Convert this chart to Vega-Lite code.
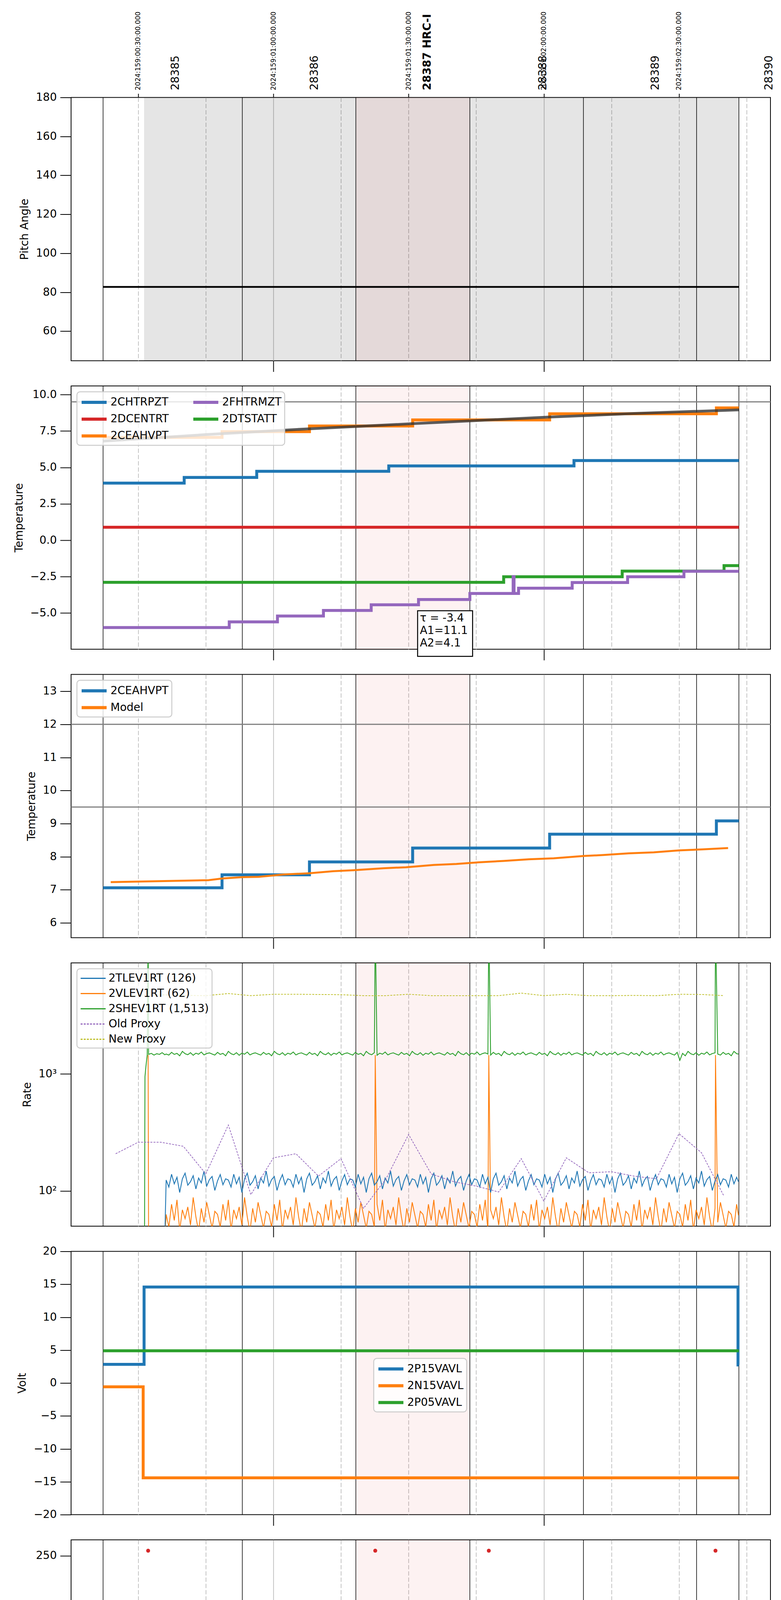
{
  "$schema": "https://vega.github.io/schema/vega-lite/v6.json",
  "background": "white",
  "padding": {"left": 34, "top": 29, "right": 0, "bottom": 0},
  "spacing": 64.5,
  "bounds": "flush",
  "resolve": {"scale": {"color": "independent", "strokeDash": "independent"}},
  "datasets": {
    "shade": [{"k": "obs", "m": 31.3, "m2": 163.3}, {"k": "hrc", "m": 78.3, "m2": 103.6}],
    "obsid": [{"m": 22.2}, {"m": 53.1}, {"m": 78.3}, {"m": 103.6}, {"m": 128.8}, {"m": 153.9}, {"m": 163.3}],
    "pitch": [{"m": 22.2, "v": 82.7}, {"m": 163.3, "v": 82.7}],
    "lim": [{"p": 2, "v": 9.5}, {"p": 3, "v": 12}, {"p": 3, "v": 9.5}],
    "anno": [{"m": 92.0, "m2": 104.2, "v": -4.84, "v2": -7.97, "tm": 92.5, "tv": -5.0, "txt": "τ = -3.4\nA1=11.1\nA2=4.1"}],
    "temps": [
      {"s": "2CHTRPZT", "m": 22.2, "v": 3.92}, {"s": "2CHTRPZT", "m": 40.2, "v": 4.31}, {"s": "2CHTRPZT", "m": 56.3, "v": 4.73}, {"s": "2CHTRPZT", "m": 85.6, "v": 5.1}, {"s": "2CHTRPZT", "m": 126.7, "v": 5.47}, {"s": "2CHTRPZT", "m": 163.3, "v": 5.47},
      {"s": "2CEAHVPT", "m": 22.2, "v": 7.06}, {"s": "2CEAHVPT", "m": 48.6, "v": 7.45}, {"s": "2CEAHVPT", "m": 68.0, "v": 7.84}, {"s": "2CEAHVPT", "m": 90.9, "v": 8.26}, {"s": "2CEAHVPT", "m": 121.3, "v": 8.68}, {"s": "2CEAHVPT", "m": 158.3, "v": 9.08}, {"s": "2CEAHVPT", "m": 163.3, "v": 9.08},
      {"s": "2DTSTATT", "m": 22.2, "v": -2.89}, {"s": "2DTSTATT", "m": 111.1, "v": -2.51}, {"s": "2DTSTATT", "m": 137.4, "v": -2.12}, {"s": "2DTSTATT", "m": 160.0, "v": -1.74}, {"s": "2DTSTATT", "m": 163.3, "v": -1.74},
      {"s": "2DCENTRT", "m": 22.2, "v": 0.89}, {"s": "2DCENTRT", "m": 163.3, "v": 0.89},
      {"s": "2FHTRMZT", "m": 22.2, "v": -5.99}, {"s": "2FHTRMZT", "m": 50.2, "v": -5.6}, {"s": "2FHTRMZT", "m": 60.9, "v": -5.2}, {"s": "2FHTRMZT", "m": 71.1, "v": -4.82}, {"s": "2FHTRMZT", "m": 81.7, "v": -4.43}, {"s": "2FHTRMZT", "m": 92.2, "v": -4.07}, {"s": "2FHTRMZT", "m": 103.6, "v": -3.65}, {"s": "2FHTRMZT", "m": 113.2, "v": -2.5}, {"s": "2FHTRMZT", "m": 113.4, "v": -3.65}, {"s": "2FHTRMZT", "m": 114.4, "v": -3.29}, {"s": "2FHTRMZT", "m": 126.3, "v": -2.9}, {"s": "2FHTRMZT", "m": 138.6, "v": -2.51}, {"s": "2FHTRMZT", "m": 151.1, "v": -2.13}, {"s": "2FHTRMZT", "m": 163.3, "v": -2.13},
      {"s": "2FRADPYT", "m": 22.2, "v": -7.98}, {"s": "2FRADPYT", "m": 22.6, "v": -8.38}, {"s": "2FRADPYT", "m": 51.3, "v": -7.98}, {"s": "2FRADPYT", "m": 63.3, "v": -7.58}, {"s": "2FRADPYT", "m": 75.2, "v": -7.16}, {"s": "2FRADPYT", "m": 87.6, "v": -6.77}, {"s": "2FRADPYT", "m": 100.2, "v": -6.37}, {"s": "2FRADPYT", "m": 113.0, "v": -5.98}, {"s": "2FRADPYT", "m": 126.1, "v": -5.59}, {"s": "2FRADPYT", "m": 140.0, "v": -5.19}, {"s": "2FRADPYT", "m": 154.0, "v": -4.8}, {"s": "2FRADPYT", "m": 163.3, "v": -4.8},
      {"s": "2FEPRATM", "m": 31.3, "v": -7.07}, {"s": "2FEPRATM", "m": 31.5, "v": -6.44}, {"s": "2FEPRATM", "m": 34.1, "v": -6.04}, {"s": "2FEPRATM", "m": 36.9, "v": -5.62}, {"s": "2FEPRATM", "m": 39.8, "v": -5.2}, {"s": "2FEPRATM", "m": 43.3, "v": -4.79}, {"s": "2FEPRATM", "m": 48.3, "v": -4.37}, {"s": "2FEPRATM", "m": 53.9, "v": -3.96}, {"s": "2FEPRATM", "m": 61.7, "v": -3.54}, {"s": "2FEPRATM", "m": 70.8, "v": -3.12}, {"s": "2FEPRATM", "m": 80.3, "v": -2.69}, {"s": "2FEPRATM", "m": 82.5, "v": -6.07}, {"s": "2FEPRATM", "m": 82.7, "v": -2.69}, {"s": "2FEPRATM", "m": 83.8, "v": -6.07}, {"s": "2FEPRATM", "m": 84.0, "v": -2.69}, {"s": "2FEPRATM", "m": 89.8, "v": -2.27}, {"s": "2FEPRATM", "m": 90.1, "v": -6.07}, {"s": "2FEPRATM", "m": 90.3, "v": -2.27}, {"s": "2FEPRATM", "m": 93.9, "v": -6.07}, {"s": "2FEPRATM", "m": 94.1, "v": -2.27}, {"s": "2FEPRATM", "m": 94.8, "v": -6.07}, {"s": "2FEPRATM", "m": 95.0, "v": -2.27}, {"s": "2FEPRATM", "m": 95.6, "v": -6.07}, {"s": "2FEPRATM", "m": 95.8, "v": -2.27}, {"s": "2FEPRATM", "m": 96.3, "v": -6.07}, {"s": "2FEPRATM", "m": 96.5, "v": -2.27}, {"s": "2FEPRATM", "m": 98.1, "v": -6.07}, {"s": "2FEPRATM", "m": 98.3, "v": -2.27}, {"s": "2FEPRATM", "m": 99.4, "v": -6.07}, {"s": "2FEPRATM", "m": 99.6, "v": -2.27}, {"s": "2FEPRATM", "m": 100.2, "v": -6.07}, {"s": "2FEPRATM", "m": 100.4, "v": -2.27}, {"s": "2FEPRATM", "m": 100.9, "v": -1.84}, {"s": "2FEPRATM", "m": 101.1, "v": -6.07}, {"s": "2FEPRATM", "m": 101.3, "v": -1.84}, {"s": "2FEPRATM", "m": 101.8, "v": -6.07}, {"s": "2FEPRATM", "m": 102.0, "v": -1.84}, {"s": "2FEPRATM", "m": 105.5, "v": -6.07}, {"s": "2FEPRATM", "m": 105.7, "v": -1.84}, {"s": "2FEPRATM", "m": 107.7, "v": -6.07}, {"s": "2FEPRATM", "m": 107.9, "v": -1.84}, {"s": "2FEPRATM", "m": 108.7, "v": -6.07}, {"s": "2FEPRATM", "m": 108.9, "v": -1.84}, {"s": "2FEPRATM", "m": 109.6, "v": -6.07}, {"s": "2FEPRATM", "m": 109.8, "v": -1.84}, {"s": "2FEPRATM", "m": 113.3, "v": -1.41}, {"s": "2FEPRATM", "m": 126.7, "v": -0.97}, {"s": "2FEPRATM", "m": 139.8, "v": -0.53}, {"s": "2FEPRATM", "m": 154.0, "v": -0.1}, {"s": "2FEPRATM", "m": 158.0, "v": -2.2}, {"s": "2FEPRATM", "m": 158.2, "v": -0.1}, {"s": "2FEPRATM", "m": 163.3, "v": -0.1},
      {"s": "2FE00ATM", "m": 31.1, "v": -10}, {"s": "2FE00ATM", "m": 31.3, "v": -7.1}, {"s": "2FE00ATM", "m": 32.2, "v": -10}, {"s": "2FE00ATM", "m": 32.4, "v": -7.1}, {"s": "2FE00ATM", "m": 42.8, "v": -6.73}, {"s": "2FE00ATM", "m": 50.0, "v": -6.38}, {"s": "2FE00ATM", "m": 54.3, "v": 2}, {"s": "2FE00ATM", "m": 54.7, "v": -6.38}, {"s": "2FE00ATM", "m": 55.0, "v": 2}, {"s": "2FE00ATM", "m": 55.4, "v": -6.38}, {"s": "2FE00ATM", "m": 56.1, "v": -7.1}, {"s": "2FE00ATM", "m": 56.3, "v": -6.38}, {"s": "2FE00ATM", "m": 56.7, "v": -6.04}, {"s": "2FE00ATM", "m": 57.3, "v": 2}, {"s": "2FE00ATM", "m": 57.7, "v": -6.04}, {"s": "2FE00ATM", "m": 58.0, "v": 2}, {"s": "2FE00ATM", "m": 58.4, "v": -6.04}, {"s": "2FE00ATM", "m": 59.6, "v": 2}, {"s": "2FE00ATM", "m": 60.0, "v": -6.04}, {"s": "2FE00ATM", "m": 60.4, "v": 2}, {"s": "2FE00ATM", "m": 60.8, "v": -6.04}, {"s": "2FE00ATM", "m": 61.2, "v": 2}, {"s": "2FE00ATM", "m": 61.6, "v": -6.04}, {"s": "2FE00ATM", "m": 62.0, "v": 2}, {"s": "2FE00ATM", "m": 62.4, "v": -6.04}, {"s": "2FE00ATM", "m": 62.6, "v": 2}, {"s": "2FE00ATM", "m": 62.9, "v": -6.04}, {"s": "2FE00ATM", "m": 63.3, "v": -5.69}, {"s": "2FE00ATM", "m": 70.2, "v": -5.34}, {"s": "2FE00ATM", "m": 74.6, "v": -4.9}, {"s": "2FE00ATM", "m": 74.8, "v": -5.34}, {"s": "2FE00ATM", "m": 77.8, "v": -4.99}, {"s": "2FE00ATM", "m": 82.6, "v": -10}, {"s": "2FE00ATM", "m": 82.8, "v": -4.99}, {"s": "2FE00ATM", "m": 83.8, "v": 2}, {"s": "2FE00ATM", "m": 84.1, "v": -4.99}, {"s": "2FE00ATM", "m": 85.8, "v": -4.64}, {"s": "2FE00ATM", "m": 86.6, "v": 2}, {"s": "2FE00ATM", "m": 87.0, "v": -4.64}, {"s": "2FE00ATM", "m": 87.4, "v": 2}, {"s": "2FE00ATM", "m": 87.7, "v": -4.64}, {"s": "2FE00ATM", "m": 90.1, "v": 2}, {"s": "2FE00ATM", "m": 90.4, "v": -4.64}, {"s": "2FE00ATM", "m": 90.7, "v": 2}, {"s": "2FE00ATM", "m": 91.0, "v": -4.64}, {"s": "2FE00ATM", "m": 93.6, "v": 2}, {"s": "2FE00ATM", "m": 94.0, "v": -4.3}, {"s": "2FE00ATM", "m": 94.4, "v": -10}, {"s": "2FE00ATM", "m": 94.8, "v": -4.3}, {"s": "2FE00ATM", "m": 95.5, "v": 2}, {"s": "2FE00ATM", "m": 95.8, "v": -4.3}, {"s": "2FE00ATM", "m": 96.2, "v": 2}, {"s": "2FE00ATM", "m": 96.5, "v": -4.3}, {"s": "2FE00ATM", "m": 98.0, "v": 2}, {"s": "2FE00ATM", "m": 98.3, "v": -4.3}, {"s": "2FE00ATM", "m": 99.2, "v": 2}, {"s": "2FE00ATM", "m": 99.5, "v": -4.3}, {"s": "2FE00ATM", "m": 99.9, "v": 2}, {"s": "2FE00ATM", "m": 100.2, "v": -4.3}, {"s": "2FE00ATM", "m": 100.6, "v": 2}, {"s": "2FE00ATM", "m": 100.9, "v": -4.3}, {"s": "2FE00ATM", "m": 101.6, "v": 2}, {"s": "2FE00ATM", "m": 101.9, "v": -4.3}, {"s": "2FE00ATM", "m": 102.3, "v": 2}, {"s": "2FE00ATM", "m": 102.6, "v": -3.97}, {"s": "2FE00ATM", "m": 105.5, "v": 2}, {"s": "2FE00ATM", "m": 105.8, "v": -3.97}, {"s": "2FE00ATM", "m": 107.8, "v": -10}, {"s": "2FE00ATM", "m": 108.0, "v": -3.97}, {"s": "2FE00ATM", "m": 108.7, "v": 2}, {"s": "2FE00ATM", "m": 109.0, "v": -3.97}, {"s": "2FE00ATM", "m": 109.6, "v": 2}, {"s": "2FE00ATM", "m": 109.9, "v": -3.97}, {"s": "2FE00ATM", "m": 111.1, "v": -3.62}, {"s": "2FE00ATM", "m": 120.6, "v": -3.3}, {"s": "2FE00ATM", "m": 130.0, "v": -2.95}, {"s": "2FE00ATM", "m": 139.4, "v": -2.61}, {"s": "2FE00ATM", "m": 141.0, "v": -2.2}, {"s": "2FE00ATM", "m": 141.2, "v": -2.61}, {"s": "2FE00ATM", "m": 145.2, "v": -3.0}, {"s": "2FE00ATM", "m": 145.4, "v": -2.61}, {"s": "2FE00ATM", "m": 150.0, "v": -2.27}, {"s": "2FE00ATM", "m": 154.3, "v": -2.0}, {"s": "2FE00ATM", "m": 154.5, "v": -2.27}, {"s": "2FE00ATM", "m": 158.1, "v": -10}, {"s": "2FE00ATM", "m": 158.3, "v": -2.27}, {"s": "2FE00ATM", "m": 160.6, "v": -1.94}, {"s": "2FE00ATM", "m": 161.8, "v": -1.6}, {"s": "2FE00ATM", "m": 162.0, "v": -1.94}, {"s": "2FE00ATM", "m": 163.3, "v": -1.94}
    ],
    "tmodel": [{"m": 22.2, "v": 6.8}, {"m": 45, "v": 7.25}, {"m": 68, "v": 7.65}, {"m": 91, "v": 8.0}, {"m": 104, "v": 8.2}, {"m": 121, "v": 8.45}, {"m": 140, "v": 8.7}, {"m": 163.3, "v": 8.95}],
    "model": [
      {"s": "Model", "m": 23.9, "v": 7.23}, {"s": "Model", "m": 45.6, "v": 7.29}, {"s": "Model", "m": 48.6, "v": 7.34}, {"s": "Model", "m": 53.1, "v": 7.38}, {"s": "Model", "m": 56.7, "v": 7.39}, {"s": "Model", "m": 62.2, "v": 7.46}, {"s": "Model", "m": 68.0, "v": 7.5}, {"s": "Model", "m": 73.3, "v": 7.56}, {"s": "Model", "m": 77.8, "v": 7.59}, {"s": "Model", "m": 84.4, "v": 7.65}, {"s": "Model", "m": 89.4, "v": 7.68}, {"s": "Model", "m": 95.6, "v": 7.75}, {"s": "Model", "m": 100.6, "v": 7.78}, {"s": "Model", "m": 105.6, "v": 7.83}, {"s": "Model", "m": 111.1, "v": 7.87}, {"s": "Model", "m": 116.7, "v": 7.92}, {"s": "Model", "m": 122.2, "v": 7.95}, {"s": "Model", "m": 128.9, "v": 8.02}, {"s": "Model", "m": 133.3, "v": 8.05}, {"s": "Model", "m": 138.9, "v": 8.1}, {"s": "Model", "m": 144.4, "v": 8.13}, {"s": "Model", "m": 150.0, "v": 8.19}, {"s": "Model", "m": 155.0, "v": 8.22}, {"s": "Model", "m": 160.9, "v": 8.26}
    ],
    "volt": [
      {"s": "2P15VAVL", "m": 22.2, "v": 2.84}, {"s": "2P15VAVL", "m": 31.3, "v": 14.59}, {"s": "2P15VAVL", "m": 163.1, "v": 2.75}, {"s": "2P15VAVL", "m": 163.3, "v": 2.75},
      {"s": "2N15VAVL", "m": 22.2, "v": -0.58}, {"s": "2N15VAVL", "m": 31.1, "v": -14.41}, {"s": "2N15VAVL", "m": 163.3, "v": -14.41},
      {"s": "2P05VAVL", "m": 22.2, "v": 4.89}, {"s": "2P05VAVL", "m": 163.3, "v": 4.89}
    ],
    "det": [
      {"s": "2SPINATM", "m": 32.4, "v": 2.66}, {"s": "2SPINATM", "m": 54.3, "v": -2}, {"s": "2SPINATM", "m": 54.7, "v": 2.66}, {"s": "2SPINATM", "m": 55.0, "v": -2}, {"s": "2SPINATM", "m": 55.4, "v": 2.66}, {"s": "2SPINATM", "m": 57.3, "v": -2}, {"s": "2SPINATM", "m": 57.7, "v": 2.66}, {"s": "2SPINATM", "m": 58.0, "v": -2}, {"s": "2SPINATM", "m": 58.4, "v": 2.66}, {"s": "2SPINATM", "m": 59.6, "v": -2}, {"s": "2SPINATM", "m": 60.0, "v": 2.66}, {"s": "2SPINATM", "m": 60.4, "v": -2}, {"s": "2SPINATM", "m": 60.8, "v": 2.66}, {"s": "2SPINATM", "m": 61.2, "v": -2}, {"s": "2SPINATM", "m": 61.6, "v": 2.66}, {"s": "2SPINATM", "m": 62.0, "v": -2}, {"s": "2SPINATM", "m": 62.4, "v": 2.66}, {"s": "2SPINATM", "m": 62.6, "v": -2}, {"s": "2SPINATM", "m": 62.9, "v": 2.66}, {"s": "2SPINATM", "m": 83.8, "v": -2}, {"s": "2SPINATM", "m": 84.1, "v": 2.66}, {"s": "2SPINATM", "m": 86.6, "v": -2}, {"s": "2SPINATM", "m": 87.0, "v": 2.66}, {"s": "2SPINATM", "m": 87.4, "v": -2}, {"s": "2SPINATM", "m": 87.7, "v": 2.66}, {"s": "2SPINATM", "m": 90.1, "v": -2}, {"s": "2SPINATM", "m": 90.4, "v": 2.66}, {"s": "2SPINATM", "m": 90.7, "v": -2}, {"s": "2SPINATM", "m": 91.0, "v": 2.66}, {"s": "2SPINATM", "m": 93.6, "v": -2}, {"s": "2SPINATM", "m": 94.0, "v": 2.66}, {"s": "2SPINATM", "m": 94.4, "v": -2}, {"s": "2SPINATM", "m": 94.8, "v": 2.66}, {"s": "2SPINATM", "m": 95.5, "v": -2}, {"s": "2SPINATM", "m": 95.8, "v": 2.66}, {"s": "2SPINATM", "m": 96.2, "v": -2}, {"s": "2SPINATM", "m": 96.5, "v": 2.66}, {"s": "2SPINATM", "m": 98.0, "v": -2}, {"s": "2SPINATM", "m": 98.3, "v": 2.66}, {"s": "2SPINATM", "m": 99.2, "v": -2}, {"s": "2SPINATM", "m": 99.5, "v": 2.66}, {"s": "2SPINATM", "m": 99.9, "v": -2}, {"s": "2SPINATM", "m": 100.2, "v": 2.66}, {"s": "2SPINATM", "m": 100.6, "v": -2}, {"s": "2SPINATM", "m": 100.9, "v": 2.66}, {"s": "2SPINATM", "m": 101.6, "v": -2}, {"s": "2SPINATM", "m": 101.9, "v": 2.66}, {"s": "2SPINATM", "m": 102.3, "v": -2}, {"s": "2SPINATM", "m": 102.6, "v": 2.66}, {"s": "2SPINATM", "m": 105.5, "v": -2}, {"s": "2SPINATM", "m": 105.8, "v": 2.66}, {"s": "2SPINATM", "m": 108.7, "v": -2}, {"s": "2SPINATM", "m": 109.0, "v": 2.66}, {"s": "2SPINATM", "m": 109.6, "v": -2}, {"s": "2SPINATM", "m": 109.9, "v": 2.66}, {"s": "2SPINATM", "m": 140.6, "v": 3.15}, {"s": "2SPINATM", "m": 163.3, "v": 3.15},
      {"s": "2SPHVATM", "m": 31.3, "v": 15.37}, {"s": "2SPHVATM", "m": 37.8, "v": 14.99}, {"s": "2SPHVATM", "m": 54.3, "v": 8.62}, {"s": "2SPHVATM", "m": 54.7, "v": 14.99}, {"s": "2SPHVATM", "m": 55.0, "v": 8.62}, {"s": "2SPHVATM", "m": 55.4, "v": 14.99}, {"s": "2SPHVATM", "m": 57.3, "v": 8.62}, {"s": "2SPHVATM", "m": 57.7, "v": 14.99}, {"s": "2SPHVATM", "m": 58.0, "v": 8.62}, {"s": "2SPHVATM", "m": 58.4, "v": 14.99}, {"s": "2SPHVATM", "m": 59.6, "v": 8.62}, {"s": "2SPHVATM", "m": 60.0, "v": 15.35}, {"s": "2SPHVATM", "m": 60.4, "v": 8.62}, {"s": "2SPHVATM", "m": 60.8, "v": 15.35}, {"s": "2SPHVATM", "m": 61.2, "v": 8.62}, {"s": "2SPHVATM", "m": 61.6, "v": 15.35}, {"s": "2SPHVATM", "m": 62.0, "v": 8.62}, {"s": "2SPHVATM", "m": 62.4, "v": 15.35}, {"s": "2SPHVATM", "m": 62.6, "v": 8.62}, {"s": "2SPHVATM", "m": 62.9, "v": 15.35}, {"s": "2SPHVATM", "m": 63.4, "v": 8.9}, {"s": "2SPHVATM", "m": 63.6, "v": 15.35}, {"s": "2SPHVATM", "m": 83.8, "v": 9.28}, {"s": "2SPHVATM", "m": 84.1, "v": 15.35}, {"s": "2SPHVATM", "m": 86.6, "v": 9.28}, {"s": "2SPHVATM", "m": 87.0, "v": 15.35}, {"s": "2SPHVATM", "m": 87.4, "v": 9.28}, {"s": "2SPHVATM", "m": 87.7, "v": 15.35}, {"s": "2SPHVATM", "m": 89.4, "v": 15.66}, {"s": "2SPHVATM", "m": 90.1, "v": 9.28}, {"s": "2SPHVATM", "m": 90.4, "v": 15.66}, {"s": "2SPHVATM", "m": 90.7, "v": 9.28}, {"s": "2SPHVATM", "m": 91.0, "v": 15.66}, {"s": "2SPHVATM", "m": 93.6, "v": 9.28}, {"s": "2SPHVATM", "m": 94.0, "v": 15.66}, {"s": "2SPHVATM", "m": 94.4, "v": 2.8}, {"s": "2SPHVATM", "m": 94.8, "v": 15.66}, {"s": "2SPHVATM", "m": 95.5, "v": 9.28}, {"s": "2SPHVATM", "m": 95.8, "v": 15.66}, {"s": "2SPHVATM", "m": 96.2, "v": 9.28}, {"s": "2SPHVATM", "m": 96.5, "v": 15.66}, {"s": "2SPHVATM", "m": 98.0, "v": 9.28}, {"s": "2SPHVATM", "m": 98.3, "v": 15.66}, {"s": "2SPHVATM", "m": 99.2, "v": 9.28}, {"s": "2SPHVATM", "m": 99.5, "v": 15.66}, {"s": "2SPHVATM", "m": 99.9, "v": 9.28}, {"s": "2SPHVATM", "m": 100.2, "v": 15.66}, {"s": "2SPHVATM", "m": 100.6, "v": 9.28}, {"s": "2SPHVATM", "m": 100.9, "v": 15.66}, {"s": "2SPHVATM", "m": 101.6, "v": 9.28}, {"s": "2SPHVATM", "m": 101.9, "v": 15.66}, {"s": "2SPHVATM", "m": 102.3, "v": 9.28}, {"s": "2SPHVATM", "m": 102.6, "v": 15.66}, {"s": "2SPHVATM", "m": 105.5, "v": 9.28}, {"s": "2SPHVATM", "m": 105.8, "v": 15.66}, {"s": "2SPHVATM", "m": 108.7, "v": 9.6}, {"s": "2SPHVATM", "m": 109.0, "v": 15.66}, {"s": "2SPHVATM", "m": 109.6, "v": 9.6}, {"s": "2SPHVATM", "m": 109.9, "v": 15.66}, {"s": "2SPHVATM", "m": 117.8, "v": 16.0}, {"s": "2SPHVATM", "m": 148.3, "v": 16.34}, {"s": "2SPHVATM", "m": 163.3, "v": 16.34},
      {"s": "2IMINATM", "m": 31.3, "v": 0.38}, {"s": "2IMINATM", "m": 54.3, "v": 2.76}, {"s": "2IMINATM", "m": 54.7, "v": 0.38}, {"s": "2IMINATM", "m": 55.0, "v": 2.76}, {"s": "2IMINATM", "m": 55.4, "v": 0.38}, {"s": "2IMINATM", "m": 57.3, "v": 2.76}, {"s": "2IMINATM", "m": 57.7, "v": 0.38}, {"s": "2IMINATM", "m": 58.0, "v": 2.76}, {"s": "2IMINATM", "m": 58.4, "v": 0.38}, {"s": "2IMINATM", "m": 59.6, "v": 2.76}, {"s": "2IMINATM", "m": 60.0, "v": 0.38}, {"s": "2IMINATM", "m": 60.4, "v": 2.76}, {"s": "2IMINATM", "m": 60.8, "v": 0.38}, {"s": "2IMINATM", "m": 61.1, "v": 0.81}, {"s": "2IMINATM", "m": 61.2, "v": 2.76}, {"s": "2IMINATM", "m": 61.6, "v": 0.81}, {"s": "2IMINATM", "m": 62.0, "v": 2.76}, {"s": "2IMINATM", "m": 62.4, "v": 0.81}, {"s": "2IMINATM", "m": 62.6, "v": 2.76}, {"s": "2IMINATM", "m": 62.9, "v": 0.81}, {"s": "2IMINATM", "m": 83.8, "v": 2.76}, {"s": "2IMINATM", "m": 84.1, "v": 0.81}, {"s": "2IMINATM", "m": 86.6, "v": 2.76}, {"s": "2IMINATM", "m": 87.0, "v": 0.81}, {"s": "2IMINATM", "m": 87.4, "v": 2.76}, {"s": "2IMINATM", "m": 87.7, "v": 0.81}, {"s": "2IMINATM", "m": 90.1, "v": 2.76}, {"s": "2IMINATM", "m": 90.4, "v": 0.81}, {"s": "2IMINATM", "m": 90.7, "v": 2.76}, {"s": "2IMINATM", "m": 91.0, "v": 0.81}, {"s": "2IMINATM", "m": 93.6, "v": 2.76}, {"s": "2IMINATM", "m": 94.0, "v": 0.81}, {"s": "2IMINATM", "m": 94.4, "v": 2.76}, {"s": "2IMINATM", "m": 94.8, "v": 0.81}, {"s": "2IMINATM", "m": 95.5, "v": 2.76}, {"s": "2IMINATM", "m": 95.8, "v": 0.81}, {"s": "2IMINATM", "m": 96.2, "v": 2.76}, {"s": "2IMINATM", "m": 96.5, "v": 0.81}, {"s": "2IMINATM", "m": 98.0, "v": 2.76}, {"s": "2IMINATM", "m": 98.3, "v": 0.81}, {"s": "2IMINATM", "m": 99.2, "v": 2.76}, {"s": "2IMINATM", "m": 99.5, "v": 0.81}, {"s": "2IMINATM", "m": 99.9, "v": 2.76}, {"s": "2IMINATM", "m": 100.2, "v": 0.81}, {"s": "2IMINATM", "m": 100.6, "v": 2.76}, {"s": "2IMINATM", "m": 100.9, "v": 0.81}, {"s": "2IMINATM", "m": 101.6, "v": 2.76}, {"s": "2IMINATM", "m": 101.9, "v": 0.81}, {"s": "2IMINATM", "m": 102.3, "v": 2.76}, {"s": "2IMINATM", "m": 102.6, "v": 0.81}, {"s": "2IMINATM", "m": 105.5, "v": 2.76}, {"s": "2IMINATM", "m": 105.8, "v": 0.81}, {"s": "2IMINATM", "m": 108.7, "v": 2.76}, {"s": "2IMINATM", "m": 109.0, "v": 0.81}, {"s": "2IMINATM", "m": 109.6, "v": 2.76}, {"s": "2IMINATM", "m": 109.9, "v": 0.81}, {"s": "2IMINATM", "m": 150.6, "v": 1.28}, {"s": "2IMINATM", "m": 163.3, "v": 1.28},
      {"s": "2IMHVATM", "m": 31.0, "v": -3}, {"s": "2IMHVATM", "m": 31.2, "v": 14.74}, {"s": "2IMHVATM", "m": 31.8, "v": 14.31}, {"s": "2IMHVATM", "m": 32.2, "v": -3}, {"s": "2IMHVATM", "m": 32.4, "v": 14.31}, {"s": "2IMHVATM", "m": 36.7, "v": 14.67}, {"s": "2IMHVATM", "m": 45.0, "v": 15.0}, {"s": "2IMHVATM", "m": 52.2, "v": 15.37}, {"s": "2IMHVATM", "m": 54.3, "v": 14.95}, {"s": "2IMHVATM", "m": 54.7, "v": 15.37}, {"s": "2IMHVATM", "m": 55.0, "v": 14.95}, {"s": "2IMHVATM", "m": 55.4, "v": 15.37}, {"s": "2IMHVATM", "m": 57.3, "v": 14.95}, {"s": "2IMHVATM", "m": 57.7, "v": 15.37}, {"s": "2IMHVATM", "m": 58.0, "v": 14.95}, {"s": "2IMHVATM", "m": 58.4, "v": 15.37}, {"s": "2IMHVATM", "m": 58.9, "v": 15.69}, {"s": "2IMHVATM", "m": 59.6, "v": 15.0}, {"s": "2IMHVATM", "m": 60.0, "v": 15.69}, {"s": "2IMHVATM", "m": 60.4, "v": 15.0}, {"s": "2IMHVATM", "m": 60.8, "v": 15.69}, {"s": "2IMHVATM", "m": 61.2, "v": 15.0}, {"s": "2IMHVATM", "m": 61.6, "v": 15.69}, {"s": "2IMHVATM", "m": 62.0, "v": 15.0}, {"s": "2IMHVATM", "m": 62.4, "v": 15.69}, {"s": "2IMHVATM", "m": 62.6, "v": 15.0}, {"s": "2IMHVATM", "m": 62.9, "v": 15.69}, {"s": "2IMHVATM", "m": 66.7, "v": 16.01}, {"s": "2IMHVATM", "m": 75.9, "v": 16.35}, {"s": "2IMHVATM", "m": 82.6, "v": -3}, {"s": "2IMHVATM", "m": 82.8, "v": 16.35}, {"s": "2IMHVATM", "m": 83.8, "v": 15.6}, {"s": "2IMHVATM", "m": 84.1, "v": 16.35}, {"s": "2IMHVATM", "m": 86.1, "v": 16.69}, {"s": "2IMHVATM", "m": 86.6, "v": 15.6}, {"s": "2IMHVATM", "m": 87.0, "v": 16.69}, {"s": "2IMHVATM", "m": 87.4, "v": 15.6}, {"s": "2IMHVATM", "m": 87.7, "v": 16.69}, {"s": "2IMHVATM", "m": 90.1, "v": 15.6}, {"s": "2IMHVATM", "m": 90.4, "v": 16.69}, {"s": "2IMHVATM", "m": 90.7, "v": 15.6}, {"s": "2IMHVATM", "m": 91.0, "v": 16.69}, {"s": "2IMHVATM", "m": 93.6, "v": 15.6}, {"s": "2IMHVATM", "m": 94.0, "v": 16.69}, {"s": "2IMHVATM", "m": 94.4, "v": 15.6}, {"s": "2IMHVATM", "m": 94.8, "v": 16.69}, {"s": "2IMHVATM", "m": 95.5, "v": 15.6}, {"s": "2IMHVATM", "m": 95.8, "v": 16.69}, {"s": "2IMHVATM", "m": 96.2, "v": 15.6}, {"s": "2IMHVATM", "m": 96.5, "v": 16.69}, {"s": "2IMHVATM", "m": 98.0, "v": 15.6}, {"s": "2IMHVATM", "m": 98.3, "v": 16.69}, {"s": "2IMHVATM", "m": 98.6, "v": 17.05}, {"s": "2IMHVATM", "m": 99.2, "v": 15.6}, {"s": "2IMHVATM", "m": 99.5, "v": 17.05}, {"s": "2IMHVATM", "m": 99.9, "v": 15.6}, {"s": "2IMHVATM", "m": 100.2, "v": 17.05}, {"s": "2IMHVATM", "m": 100.6, "v": 15.6}, {"s": "2IMHVATM", "m": 100.9, "v": 17.05}, {"s": "2IMHVATM", "m": 101.6, "v": 15.6}, {"s": "2IMHVATM", "m": 101.9, "v": 17.05}, {"s": "2IMHVATM", "m": 102.3, "v": 15.6}, {"s": "2IMHVATM", "m": 102.6, "v": 17.05}, {"s": "2IMHVATM", "m": 105.5, "v": 15.6}, {"s": "2IMHVATM", "m": 105.8, "v": 17.05}, {"s": "2IMHVATM", "m": 107.8, "v": -3}, {"s": "2IMHVATM", "m": 108.0, "v": 17.05}, {"s": "2IMHVATM", "m": 108.7, "v": 15.6}, {"s": "2IMHVATM", "m": 109.0, "v": 17.05}, {"s": "2IMHVATM", "m": 109.6, "v": 15.6}, {"s": "2IMHVATM", "m": 109.9, "v": 17.05}, {"s": "2IMHVATM", "m": 114.4, "v": 17.4}, {"s": "2IMHVATM", "m": 134.7, "v": 17.77}, {"s": "2IMHVATM", "m": 158.1, "v": -3}, {"s": "2IMHVATM", "m": 158.3, "v": 17.77}, {"s": "2IMHVATM", "m": 158.9, "v": 18.1}, {"s": "2IMHVATM", "m": 163.3, "v": 18.1}
    ],
    "proxy": [
      {"s": "old", "m": 25, "v": 208}, {"s": "old", "m": 30, "v": 261}, {"s": "old", "m": 35, "v": 261}, {"s": "old", "m": 40, "v": 241}, {"s": "old", "m": 45, "v": 140}, {"s": "old", "m": 50, "v": 366}, {"s": "old", "m": 55, "v": 93}, {"s": "old", "m": 60, "v": 192}, {"s": "old", "m": 65, "v": 208}, {"s": "old", "m": 70, "v": 134}, {"s": "old", "m": 75, "v": 189}, {"s": "old", "m": 80, "v": 71}, {"s": "old", "m": 85, "v": 127}, {"s": "old", "m": 90, "v": 304}, {"s": "old", "m": 95, "v": 140}, {"s": "old", "m": 100, "v": 120}, {"s": "old", "m": 105, "v": 110}, {"s": "old", "m": 110, "v": 98}, {"s": "old", "m": 115, "v": 189}, {"s": "old", "m": 120, "v": 82}, {"s": "old", "m": 125, "v": 192}, {"s": "old", "m": 130, "v": 143}, {"s": "old", "m": 135, "v": 146}, {"s": "old", "m": 140, "v": 134}, {"s": "old", "m": 145, "v": 127}, {"s": "old", "m": 150, "v": 309}, {"s": "old", "m": 155, "v": 212}, {"s": "old", "m": 160, "v": 90},
      {"s": "new", "m": 25, "v": 4700}, {"s": "new", "m": 30, "v": 4700}, {"s": "new", "m": 35, "v": 4750}, {"s": "new", "m": 40, "v": 4700}, {"s": "new", "m": 45, "v": 4670}, {"s": "new", "m": 50, "v": 4870}, {"s": "new", "m": 55, "v": 4670}, {"s": "new", "m": 60, "v": 4800}, {"s": "new", "m": 65, "v": 4800}, {"s": "new", "m": 70, "v": 4780}, {"s": "new", "m": 75, "v": 4760}, {"s": "new", "m": 80, "v": 4670}, {"s": "new", "m": 85, "v": 4670}, {"s": "new", "m": 90, "v": 4800}, {"s": "new", "m": 95, "v": 4670}, {"s": "new", "m": 100, "v": 4670}, {"s": "new", "m": 105, "v": 4670}, {"s": "new", "m": 110, "v": 4670}, {"s": "new", "m": 115, "v": 4910}, {"s": "new", "m": 120, "v": 4670}, {"s": "new", "m": 125, "v": 4800}, {"s": "new", "m": 130, "v": 4670}, {"s": "new", "m": 135, "v": 4670}, {"s": "new", "m": 140, "v": 4690}, {"s": "new", "m": 145, "v": 4670}, {"s": "new", "m": 150, "v": 4800}, {"s": "new", "m": 155, "v": 4780}, {"s": "new", "m": 160, "v": 4670}
    ],
    "hv": [
      {"s": "g", "m": 33.0, "v": 100}, {"s": "g", "m": 33.7, "v": 95}, {"s": "g", "m": 34.2, "v": 90}, {"s": "g", "m": 34.9, "v": 86}, {"s": "g", "m": 35.6, "v": 82}, {"s": "g", "m": 36.1, "v": 79}, {"s": "g", "m": 55.2, "v": 127}, {"s": "g", "m": 58.2, "v": 127}, {"s": "g", "m": 60.4, "v": 127}, {"s": "g", "m": 94.7, "v": 127}, {"s": "g", "m": 95.6, "v": 127}, {"s": "g", "m": 96.4, "v": 127}, {"s": "g", "m": 98.2, "v": 127}, {"s": "g", "m": 105.6, "v": 127}, {"s": "g", "m": 108.8, "v": 127},
      {"s": "r", "m": 32.2, "v": 255}, {"s": "r", "m": 82.6, "v": 255}, {"s": "r", "m": 107.8, "v": 255}, {"s": "r", "m": 158.1, "v": 255}, {"s": "r", "m": 32.8, "v": 127}, {"s": "r", "m": 32.8, "v": 119}, {"s": "r", "m": 33.1, "v": 105.5}, {"s": "r", "m": 33.3, "v": 105}, {"s": "r", "m": 33.9, "v": 101}, {"s": "r", "m": 34.4, "v": 97}, {"s": "r", "m": 35.1, "v": 92}, {"s": "r", "m": 35.8, "v": 89}, {"s": "r", "m": 55.2, "v": 79}, {"s": "r", "m": 58.2, "v": 79}, {"s": "r", "m": 60.4, "v": 79}, {"s": "r", "m": 94.7, "v": 79}, {"s": "r", "m": 95.6, "v": 79}, {"s": "r", "m": 96.4, "v": 79}, {"s": "r", "m": 98.2, "v": 79}, {"s": "r", "m": 105.6, "v": 79}, {"s": "r", "m": 108.8, "v": 79}, {"s": "r", "m": 62.9, "v": 88}
    ],
    "dense": [
      {"m": 31.4, "c": 40}, {"m": 31.5, "c": 950}, {"m": 31.7, "c": 1150}, {"m": 32.0, "c": 1460}, {"m": 32.2, "b": 1450, "c": 20000}, {"m": 32.3, "b": 40, "c": 1470}, {"m": 32.9, "c": 1500}, {"m": 33.5, "c": 1450}, {"m": 34.1, "c": 1490}, {"m": 34.7, "c": 1470}, {"m": 35.3, "c": 1520}, {"m": 35.9, "a": 40, "b": 40, "c": 1460},
      {"m": 82.6, "b": 1450, "c": 20000}, {"m": 107.8, "b": 1450, "c": 20000}, {"m": 158.1, "b": 1450, "c": 20000},
      {"m":36.2,"a":124,"b":63,"c":1480,"r":86,"g":79},
      {"m":36.8,"a":108,"b":49,"c":1450,"r":86,"g":79},
      {"m":37.4,"a":139,"b":77,"c":1530,"r":86,"g":79},
      {"m":38.0,"a":115,"b":56,"c":1470,"r":86,"g":79},
      {"m":38.6,"a":131,"b":84,"c":1500,"r":86,"g":79},
      {"m":39.2,"a":97,"b":46,"c":1430,"r":86,"g":80.5},
      {"m":39.8,"a":127,"b":69,"c":1560,"r":86,"g":79},
      {"m":40.4,"a":142,"b":58,"c":1490,"r":86,"g":79},
      {"m":41.0,"a":112,"b":73,"c":1460,"r":86,"g":79},
      {"m":41.6,"a":120,"b":51,"c":1520,"r":86,"g":79},
      {"m":42.2,"a":135,"b":88,"c":1445,"r":86,"g":79},
      {"m":42.8,"a":104,"b":60,"c":1505,"r":86,"g":80.5},
      {"m":43.4,"a":129,"b":45,"c":1475,"r":86,"g":79},
      {"m":44.0,"a":117,"b":71,"c":1540,"r":86,"g":79},
      {"m":44.6,"a":148,"b":54,"c":1455,"r":86,"g":79},
      {"m":45.2,"a":110,"b":80,"c":1495,"r":86,"g":79},
      {"m":45.8,"a":125,"b":62,"c":1515,"r":86,"g":79},
      {"m":46.4,"a":133,"b":48,"c":1480,"r":86,"g":80.5},
      {"m":47.0,"a":101,"b":67,"c":1450,"r":86,"g":79},
      {"m":47.6,"a":122,"b":63,"c":1530,"r":86,"g":79},
      {"m":48.2,"a":138,"b":49,"c":1470,"r":86,"g":79},
      {"m":48.8,"a":113,"b":77,"c":1500,"r":86,"g":79},
      {"m":49.4,"a":127,"b":56,"c":1430,"r":86,"g":79},
      {"m":50.0,"a":124,"b":84,"c":1560,"r":86,"g":80.5},
      {"m":50.6,"a":108,"b":46,"c":1490,"r":86,"g":79},
      {"m":51.2,"a":139,"b":69,"c":1460,"r":86,"g":79},
      {"m":51.8,"a":115,"b":58,"c":1520,"r":86,"g":79},
      {"m":52.4,"a":131,"b":73,"c":1445,"r":86,"g":79},
      {"m":53.0,"a":97,"b":51,"c":1505,"r":86,"g":79},
      {"m":53.6,"a":127,"b":88,"c":1475,"r":86,"g":80.5},
      {"m":54.2,"a":142,"b":60,"c":1540,"r":86,"g":79},
      {"m":54.8,"a":112,"b":45,"c":1455,"r":86,"g":79},
      {"m":55.4,"a":120,"b":71,"c":1495,"r":86,"g":79},
      {"m":56.0,"a":135,"b":54,"c":1515,"r":86,"g":79},
      {"m":56.6,"a":104,"b":80,"c":1480,"r":86,"g":79},
      {"m":57.2,"a":129,"b":62,"c":1450,"r":86,"g":80.5},
      {"m":57.8,"a":117,"b":48,"c":1530,"r":86,"g":79},
      {"m":58.4,"a":148,"b":67,"c":1470,"r":86,"g":79},
      {"m":59.0,"a":110,"b":63,"c":1500,"r":86,"g":79},
      {"m":59.6,"a":125,"b":49,"c":1430,"r":86,"g":79},
      {"m":60.2,"a":133,"b":77,"c":1560,"r":86,"g":79},
      {"m":60.8,"a":101,"b":56,"c":1490,"r":86,"g":80.5},
      {"m":61.4,"a":122,"b":84,"c":1460,"r":86,"g":79},
      {"m":62.0,"a":138,"b":46,"c":1520,"r":86,"g":79},
      {"m":62.6,"a":113,"b":69,"c":1445,"r":86,"g":79},
      {"m":63.2,"a":127,"b":58,"c":1505,"r":86,"g":79},
      {"m":63.8,"a":124,"b":73,"c":1475,"r":86,"g":79},
      {"m":64.4,"a":108,"b":51,"c":1540,"r":86,"g":80.5},
      {"m":65.0,"a":139,"b":88,"c":1455,"r":86,"g":79},
      {"m":65.6,"a":115,"b":60,"c":1495,"r":86,"g":79},
      {"m":66.2,"a":131,"b":45,"c":1515,"r":86,"g":79},
      {"m":66.8,"a":97,"b":71,"c":1480,"r":86,"g":79},
      {"m":67.4,"a":127,"b":54,"c":1450,"r":86,"g":79},
      {"m":68.0,"a":142,"b":80,"c":1530,"r":86,"g":80.5},
      {"m":68.6,"a":112,"b":62,"c":1470,"r":86,"g":79},
      {"m":69.2,"a":120,"b":48,"c":1500,"r":86,"g":79},
      {"m":69.8,"a":135,"b":67,"c":1430,"r":86,"g":79},
      {"m":70.4,"a":104,"b":63,"c":1560,"r":86,"g":79},
      {"m":71.0,"a":129,"b":49,"c":1490,"r":86,"g":79},
      {"m":71.6,"a":117,"b":77,"c":1460,"r":86,"g":80.5},
      {"m":72.2,"a":148,"b":56,"c":1520,"r":86,"g":79},
      {"m":72.8,"a":110,"b":84,"c":1445,"r":86,"g":79},
      {"m":73.4,"a":125,"b":46,"c":1505,"r":86,"g":79},
      {"m":74.0,"a":133,"b":69,"c":1475,"r":86,"g":79},
      {"m":74.6,"a":101,"b":58,"c":1540,"r":86,"g":79},
      {"m":75.2,"a":122,"b":73,"c":1455,"r":86,"g":80.5},
      {"m":75.8,"a":138,"b":51,"c":1495,"r":86,"g":79},
      {"m":76.4,"a":113,"b":88,"c":1515,"r":86,"g":79},
      {"m":77.0,"a":127,"b":60,"c":1480,"r":86,"g":79},
      {"m":77.6,"a":124,"b":45,"c":1450,"r":86,"g":79},
      {"m":78.2,"a":108,"b":71,"c":1530,"r":86,"g":79},
      {"m":78.8,"a":139,"b":54,"c":1470,"r":86,"g":80.5},
      {"m":79.4,"a":115,"b":80,"c":1500,"r":86,"g":79},
      {"m":80.0,"a":131,"b":62,"c":1430,"r":86,"g":79},
      {"m":80.6,"a":97,"b":48,"c":1560,"r":86,"g":79},
      {"m":81.2,"a":127,"b":67,"c":1490,"r":86,"g":79},
      {"m":81.8,"a":142,"b":63,"c":1460,"r":86,"g":79},
      {"m":82.4,"a":112,"b":49,"c":1520,"r":86,"g":80.5},
      {"m":83.0,"a":120,"b":77,"c":1445,"r":86,"g":79},
      {"m":83.6,"a":135,"b":56,"c":1505,"r":86,"g":79},
      {"m":84.2,"a":104,"b":84,"c":1475,"r":86,"g":79},
      {"m":84.8,"a":129,"b":46,"c":1540,"r":86,"g":79},
      {"m":85.4,"a":117,"b":69,"c":1455,"r":86,"g":79},
      {"m":86.0,"a":148,"b":58,"c":1495,"r":86,"g":80.5},
      {"m":86.6,"a":110,"b":73,"c":1515,"r":86,"g":79},
      {"m":87.2,"a":125,"b":51,"c":1480,"r":86,"g":79},
      {"m":87.8,"a":133,"b":88,"c":1450,"r":86,"g":79},
      {"m":88.4,"a":101,"b":60,"c":1530,"r":86,"g":79},
      {"m":89.0,"a":122,"b":45,"c":1470,"r":86,"g":79},
      {"m":89.6,"a":138,"b":71,"c":1500,"r":86,"g":80.5},
      {"m":90.2,"a":113,"b":54,"c":1430,"r":86,"g":79},
      {"m":90.8,"a":127,"b":80,"c":1560,"r":86,"g":79},
      {"m":91.4,"a":124,"b":62,"c":1490,"r":86,"g":79},
      {"m":92.0,"a":108,"b":48,"c":1460,"r":86,"g":79},
      {"m":92.6,"a":139,"b":67,"c":1520,"r":86,"g":79},
      {"m":93.2,"a":115,"b":63,"c":1445,"r":86,"g":80.5},
      {"m":93.8,"a":131,"b":49,"c":1505,"r":86,"g":79},
      {"m":94.4,"a":97,"b":77,"c":1475,"r":86,"g":79},
      {"m":95.0,"a":127,"b":56,"c":1540,"r":86,"g":79},
      {"m":95.6,"a":142,"b":84,"c":1455,"r":86,"g":79},
      {"m":96.2,"a":112,"b":46,"c":1495,"r":86,"g":79},
      {"m":96.8,"a":120,"b":69,"c":1515,"r":86,"g":80.5},
      {"m":97.4,"a":135,"b":58,"c":1480,"r":86,"g":79},
      {"m":98.0,"a":104,"b":73,"c":1450,"r":86,"g":79},
      {"m":98.6,"a":129,"b":51,"c":1530,"r":86,"g":79},
      {"m":99.2,"a":117,"b":88,"c":1470,"r":86,"g":79},
      {"m":99.8,"a":148,"b":60,"c":1500,"r":86,"g":79},
      {"m":100.4,"a":110,"b":45,"c":1430,"r":86,"g":80.5},
      {"m":101.0,"a":125,"b":71,"c":1560,"r":86,"g":79},
      {"m":101.6,"a":133,"b":54,"c":1490,"r":86,"g":79},
      {"m":102.2,"a":101,"b":80,"c":1460,"r":86,"g":79},
      {"m":102.8,"a":122,"b":62,"c":1520,"r":86,"g":79},
      {"m":103.4,"a":138,"b":48,"c":1445,"r":86,"g":79},
      {"m":104.0,"a":113,"b":67,"c":1505,"r":86,"g":80.5},
      {"m":104.6,"a":127,"b":63,"c":1475,"r":86,"g":79},
      {"m":105.2,"a":124,"b":49,"c":1540,"r":86,"g":79},
      {"m":105.8,"a":108,"b":77,"c":1455,"r":86,"g":79},
      {"m":106.4,"a":139,"b":56,"c":1495,"r":86,"g":79},
      {"m":107.0,"a":115,"b":84,"c":1515,"r":86,"g":79},
      {"m":107.6,"a":131,"b":46,"c":1480,"r":86,"g":80.5},
      {"m":108.2,"a":97,"b":69,"c":1450,"r":86,"g":79},
      {"m":108.8,"a":127,"b":58,"c":1530,"r":86,"g":79},
      {"m":109.4,"a":142,"b":73,"c":1470,"r":86,"g":79},
      {"m":110.0,"a":112,"b":51,"c":1500,"r":86,"g":79},
      {"m":110.6,"a":120,"b":88,"c":1430,"r":86,"g":79},
      {"m":111.2,"a":135,"b":60,"c":1560,"r":86,"g":80.5},
      {"m":111.8,"a":104,"b":45,"c":1490,"r":86,"g":79},
      {"m":112.4,"a":129,"b":71,"c":1460,"r":86,"g":79},
      {"m":113.0,"a":117,"b":54,"c":1520,"r":86,"g":79},
      {"m":113.6,"a":148,"b":80,"c":1445,"r":86,"g":79},
      {"m":114.2,"a":110,"b":62,"c":1505,"r":86,"g":79},
      {"m":114.8,"a":125,"b":48,"c":1475,"r":86,"g":80.5},
      {"m":115.4,"a":133,"b":67,"c":1540,"r":86,"g":79},
      {"m":116.0,"a":101,"b":63,"c":1455,"r":86,"g":79},
      {"m":116.6,"a":122,"b":49,"c":1495,"r":86,"g":79},
      {"m":117.2,"a":138,"b":77,"c":1515,"r":86,"g":79},
      {"m":117.8,"a":113,"b":56,"c":1480,"r":86,"g":79},
      {"m":118.4,"a":127,"b":84,"c":1450,"r":86,"g":80.5},
      {"m":119.0,"a":124,"b":46,"c":1530,"r":86,"g":79},
      {"m":119.6,"a":108,"b":69,"c":1470,"r":86,"g":79},
      {"m":120.2,"a":139,"b":58,"c":1500,"r":86,"g":79},
      {"m":120.8,"a":115,"b":73,"c":1430,"r":86,"g":79},
      {"m":121.4,"a":131,"b":51,"c":1560,"r":86,"g":79},
      {"m":122.0,"a":97,"b":88,"c":1490,"r":86,"g":80.5},
      {"m":122.6,"a":127,"b":60,"c":1460,"r":86,"g":79},
      {"m":123.2,"a":142,"b":45,"c":1520,"r":86,"g":79},
      {"m":123.8,"a":112,"b":71,"c":1445,"r":86,"g":79},
      {"m":124.4,"a":120,"b":54,"c":1505,"r":86,"g":79},
      {"m":125.0,"a":135,"b":80,"c":1475,"r":86,"g":79},
      {"m":125.6,"a":104,"b":62,"c":1540,"r":86,"g":80.5},
      {"m":126.2,"a":129,"b":48,"c":1455,"r":86,"g":79},
      {"m":126.8,"a":117,"b":67,"c":1495,"r":86,"g":79},
      {"m":127.4,"a":148,"b":63,"c":1515,"r":86,"g":79},
      {"m":128.0,"a":110,"b":49,"c":1480,"r":86,"g":79},
      {"m":128.6,"a":125,"b":77,"c":1450,"r":86,"g":79},
      {"m":129.2,"a":133,"b":56,"c":1530,"r":86,"g":80.5},
      {"m":129.8,"a":101,"b":84,"c":1470,"r":86,"g":79},
      {"m":130.4,"a":122,"b":46,"c":1500,"r":86,"g":79},
      {"m":131.0,"a":138,"b":69,"c":1430,"r":86,"g":79},
      {"m":131.6,"a":113,"b":58,"c":1560,"r":86,"g":79},
      {"m":132.2,"a":127,"b":73,"c":1490,"r":86,"g":79},
      {"m":132.8,"a":124,"b":51,"c":1460,"r":86,"g":80.5},
      {"m":133.4,"a":108,"b":88,"c":1520,"r":86,"g":79},
      {"m":134.0,"a":139,"b":60,"c":1445,"r":86,"g":79},
      {"m":134.6,"a":115,"b":45,"c":1505,"r":86,"g":79},
      {"m":135.2,"a":131,"b":71,"c":1475,"r":86,"g":79},
      {"m":135.8,"a":97,"b":54,"c":1540,"r":86,"g":79},
      {"m":136.4,"a":127,"b":80,"c":1455,"r":86,"g":80.5},
      {"m":137.0,"a":142,"b":62,"c":1495,"r":86,"g":79},
      {"m":137.6,"a":112,"b":48,"c":1515,"r":86,"g":79},
      {"m":138.2,"a":120,"b":67,"c":1480,"r":86,"g":79},
      {"m":138.8,"a":135,"b":63,"c":1450,"r":86,"g":79},
      {"m":139.4,"a":104,"b":49,"c":1530,"r":86,"g":79},
      {"m":140.0,"a":129,"b":77,"c":1470,"r":86,"g":80.5},
      {"m":140.6,"a":117,"b":56,"c":1500,"r":86,"g":79},
      {"m":141.2,"a":148,"b":84,"c":1430,"r":86,"g":79},
      {"m":141.8,"a":110,"b":46,"c":1560,"r":86,"g":79},
      {"m":142.4,"a":125,"b":69,"c":1490,"r":86,"g":79},
      {"m":143.0,"a":133,"b":58,"c":1460,"r":86,"g":79},
      {"m":143.6,"a":101,"b":73,"c":1520,"r":86,"g":80.5},
      {"m":144.2,"a":122,"b":51,"c":1445,"r":86,"g":79},
      {"m":144.8,"a":138,"b":88,"c":1505,"r":86,"g":79},
      {"m":145.4,"a":113,"b":60,"c":1475,"r":86,"g":79},
      {"m":146.0,"a":127,"b":45,"c":1540,"r":86,"g":79},
      {"m":146.6,"a":124,"b":71,"c":1455,"r":86,"g":79},
      {"m":147.2,"a":108,"b":54,"c":1495,"r":86,"g":80.5},
      {"m":147.8,"a":139,"b":80,"c":1515,"r":86,"g":79},
      {"m":148.4,"a":115,"b":62,"c":1480,"r":86,"g":79},
      {"m":149.0,"a":131,"b":48,"c":1450,"r":86,"g":79},
      {"m":149.6,"a":97,"b":67,"c":1530,"r":86,"g":79},
      {"m":150.2,"a":127,"b":63,"c":1310,"r":86,"g":79},
      {"m":150.8,"a":142,"b":49,"c":1500,"r":86,"g":80.5},
      {"m":151.4,"a":112,"b":77,"c":1430,"r":86,"g":79},
      {"m":152.0,"a":120,"b":56,"c":1560,"r":86,"g":79},
      {"m":152.6,"a":135,"b":84,"c":1490,"r":86,"g":79},
      {"m":153.2,"a":104,"b":46,"c":1460,"r":86,"g":79},
      {"m":153.8,"a":129,"b":69,"c":1520,"r":86,"g":79},
      {"m":154.4,"a":117,"b":58,"c":1445,"r":86,"g":80.5},
      {"m":155.0,"a":148,"b":73,"c":1505,"r":86,"g":79},
      {"m":155.6,"a":110,"b":51,"c":1475,"r":86,"g":79},
      {"m":156.2,"a":125,"b":88,"c":1540,"r":86,"g":79},
      {"m":156.8,"a":133,"b":60,"c":1455,"r":86,"g":79},
      {"m":157.4,"a":101,"b":45,"c":1495,"r":86,"g":79},
      {"m":158.0,"a":122,"b":71,"c":1515,"r":86,"g":80.5},
      {"m":158.6,"a":138,"b":54,"c":1480,"r":86,"g":79},
      {"m":159.2,"a":113,"b":80,"c":1450,"r":86,"g":79},
      {"m":159.8,"a":127,"b":62,"c":1530,"r":86,"g":79},
      {"m":160.4,"a":124,"b":48,"c":1470,"r":86,"g":79},
      {"m":161.0,"a":108,"b":67,"c":1500,"r":86,"g":79},
      {"m":161.6,"a":139,"b":63,"c":1430,"r":86,"g":80.5},
      {"m":162.2,"a":115,"b":49,"c":1560,"r":86,"g":79},
      {"m":162.8,"a":131,"b":77,"c":1490,"r":86,"g":79},
      {"m":163.2,"a":120,"b":62,"c":1480,"r":86,"g":79}
    ]
  },
  "vconcat": [
    {
      "width": 1791, "height": 1, "view": {"stroke": null},
      "data": {"name": "obsid"},
      "mark": {"type": "rule", "opacity": 0},
      "encoding": {"x": {"field": "m", "type": "quantitative", "scale": {"domain": [15.1, 170.3], "nice": false, "zero": false},
                         "axis": {"orient": "top", "offset": -65.5, "values": [30, 38.3, 60, 69.1, 90, 94.2, 119.8, 120, 144.8, 150, 170], "grid": false, "title": null,
                                  "tickSize": 10, "tickOpacity": {"condition": {"test": "datum.value % 30 == 0", "value": 1}, "value": 0},
                                  "labelPadding": 9, "labelAngle": -90,
                                  "labelFontSize": {"condition": {"test": "datum.value % 30 == 0", "value": 17}, "value": 28},
                                  "labelFontWeight": {"condition": {"test": "datum.value > 94 && datum.value < 95", "value": "bold"}, "value": "normal"},
                                  "labelExpr": "datum.value % 30 == 0 ? '2024:159:0' + floor(datum.value / 60) + ':' + (datum.value % 60 == 0 ? '00' : '30') + ':00.000' : datum.value < 40 ? '28385' : datum.value < 70 ? '28386' : datum.value < 95 ? '28387 HRC-I' : datum.value < 125 ? '28388' : datum.value < 145 ? '28389' : '28390'"}}}
    },
    {
      "width": 1791, "height": 674,
      "layer": [
        {"data": {"name": "shade"}, "transform": [{"filter": "datum.k == 'obs'"}],
         "mark": {"type": "rect", "color": "black", "opacity": 0.1},
         "encoding": {"x": {"field": "m", "type": "quantitative", "scale": {"domain": [15.1, 170.3], "nice": false, "zero": false},
                            "axis": {"orient": "bottom", "values": [30, 45, 60, 75, 90, 105, 120, 135, 150, 165], "grid": true, "gridColor": "#b0b0b0", "gridWidth": 1.5,
                                     "gridDash": {"condition": {"test": "datum.value % 60 == 0", "value": [1, 0]}, "value": [11, 5]},
                                     "tickSize": 28, "tickOpacity": {"condition": {"test": "datum.value % 60 == 0", "value": 1}, "value": 0}, "labels": false, "title": null}},
                      "x2": {"field": "m2"}}},
        {"data": {"name": "shade"}, "transform": [{"filter": "datum.k == 'hrc'"}],
         "mark": {"type": "rect", "color": "#d62728", "opacity": 0.06},
         "encoding": {"x": {"field": "m", "type": "quantitative", "scale": {"domain": [15.1, 170.3], "nice": false, "zero": false}},
                      "x2": {"field": "m2"}}},
        {"data": {"name": "obsid"}, "mark": {"type": "rule", "color": "black", "strokeWidth": 1.5},
         "encoding": {"x": {"field": "m", "type": "quantitative", "scale": {"domain": [15.1, 170.3], "nice": false, "zero": false}}}},
        {"data": {"name": "pitch"}, "mark": {"type": "line", "color": "black", "strokeWidth": 4.5, "clip": true},
         "encoding": {"x": {"field": "m", "type": "quantitative", "scale": {"domain": [15.1, 170.3], "nice": false, "zero": false}},
                      "y": {"field": "v", "type": "quantitative", "scale": {"domain": [44.8, 180], "nice": false, "zero": false},
                            "axis": {"title": "Pitch Angle", "values": [60, 80, 100, 120, 140, 160, 180], "format": "d"}}}}
      ]
    },
    {
      "width": 1791, "height": 674,
      "layer": [
        {"data": {"name": "shade"}, "transform": [{"filter": "datum.k == 'hrc'"}],
         "mark": {"type": "rect", "color": "#d62728", "opacity": 0.06},
         "encoding": {"x": {"field": "m", "type": "quantitative", "scale": {"domain": [15.1, 170.3], "nice": false, "zero": false},
                            "axis": {"orient": "bottom", "values": [30, 45, 60, 75, 90, 105, 120, 135, 150, 165], "grid": true, "gridColor": "#b0b0b0", "gridWidth": 1.5,
                                     "gridDash": {"condition": {"test": "datum.value % 60 == 0", "value": [1, 0]}, "value": [11, 5]},
                                     "tickSize": 28, "tickOpacity": {"condition": {"test": "datum.value % 60 == 0", "value": 1}, "value": 0}, "labels": false, "title": null}},
                      "x2": {"field": "m2"}}},
        {"data": {"name": "obsid"}, "mark": {"type": "rule", "color": "black", "strokeWidth": 1.5},
         "encoding": {"x": {"field": "m", "type": "quantitative", "scale": {"domain": [15.1, 170.3], "nice": false, "zero": false}}}},
        {"data": {"name": "lim"}, "transform": [{"filter": "datum.p == 2"}], "mark": {"type": "rule", "color": "#808080", "strokeWidth": 3},
         "encoding": {"y": {"field": "v", "type": "quantitative", "scale": {"domain": [-7.48, 10.59], "nice": false, "zero": false}}}},
        {"data": {"name": "temps"}, "transform": [{"filter": {"field": "s", "oneOf": ["2CHTRPZT", "2CEAHVPT", "2DTSTATT", "2DCENTRT", "2FHTRMZT"]}}],
         "mark": {"type": "line", "interpolate": "step-after", "strokeWidth": 7.5, "clip": true},
         "encoding": {"x": {"field": "m", "type": "quantitative", "scale": {"domain": [15.1, 170.3], "nice": false, "zero": false}},
                      "y": {"field": "v", "type": "quantitative", "scale": {"domain": [-7.48, 10.59], "nice": false, "zero": false},
                            "axis": {"title": "Temperature", "values": [-5, -2.5, 0, 2.5, 5, 7.5, 10], "format": ".1f"}},
                      "color": {"field": "s", "type": "nominal",
                                "scale": {"domain": ["2CHTRPZT", "2DCENTRT", "2CEAHVPT", "2FHTRMZT", "2DTSTATT"], "range": ["#1f77b4", "#d62728", "#ff7f0e", "#9467bd", "#2ca02c"]},
                                "legend": {"title": null, "orient": "top-left", "columns": 2, "columnPadding": 46, "symbolType": "M-1,0H3.27"}}}},
        {"data": {"name": "tmodel"}, "mark": {"type": "line", "color": "#333333", "strokeWidth": 7, "opacity": 0.8, "clip": true},
         "encoding": {"x": {"field": "m", "type": "quantitative", "scale": {"domain": [15.1, 170.3], "nice": false, "zero": false}},
                      "y": {"field": "v", "type": "quantitative", "scale": {"domain": [-7.48, 10.59], "nice": false, "zero": false}}}},
        {"data": {"name": "anno"}, "mark": {"type": "rect", "fill": "white", "stroke": "black", "strokeWidth": 2.5, "clip": false},
         "encoding": {"x": {"field": "m", "type": "quantitative", "scale": {"domain": [15.1, 170.3], "nice": false, "zero": false}},
                      "x2": {"field": "m2"},
                      "y": {"field": "v", "type": "quantitative", "scale": {"domain": [-7.48, 10.59], "nice": false, "zero": false}},
                      "y2": {"field": "v2"}}},
        {"data": {"name": "anno"}, "mark": {"type": "text", "align": "left", "baseline": "top", "fontSize": 28, "font": "DejaVu Sans", "lineHeight": 32, "lineBreak": "\n", "color": "black", "clip": false},
         "encoding": {"x": {"field": "tm", "type": "quantitative", "scale": {"domain": [15.1, 170.3], "nice": false, "zero": false}},
                      "y": {"field": "tv", "type": "quantitative", "scale": {"domain": [-7.48, 10.59], "nice": false, "zero": false}},
                      "text": {"field": "txt"}}}
      ]
    },
    {
      "width": 1791, "height": 674,
      "layer": [
        {"data": {"name": "shade"}, "transform": [{"filter": "datum.k == 'hrc'"}],
         "mark": {"type": "rect", "color": "#d62728", "opacity": 0.06},
         "encoding": {"x": {"field": "m", "type": "quantitative", "scale": {"domain": [15.1, 170.3], "nice": false, "zero": false},
                            "axis": {"orient": "bottom", "values": [30, 45, 60, 75, 90, 105, 120, 135, 150, 165], "grid": true, "gridColor": "#b0b0b0", "gridWidth": 1.5,
                                     "gridDash": {"condition": {"test": "datum.value % 60 == 0", "value": [1, 0]}, "value": [11, 5]},
                                     "tickSize": 28, "tickOpacity": {"condition": {"test": "datum.value % 60 == 0", "value": 1}, "value": 0}, "labels": false, "title": null}},
                      "x2": {"field": "m2"}}},
        {"data": {"name": "obsid"}, "mark": {"type": "rule", "color": "black", "strokeWidth": 1.5},
         "encoding": {"x": {"field": "m", "type": "quantitative", "scale": {"domain": [15.1, 170.3], "nice": false, "zero": false}}}},
        {"data": {"name": "lim"}, "transform": [{"filter": "datum.p == 3"}], "mark": {"type": "rule", "color": "#808080", "strokeWidth": 3},
         "encoding": {"y": {"field": "v", "type": "quantitative", "scale": {"domain": [5.55, 13.51], "nice": false, "zero": false}}}},
        {"data": {"name": "temps"}, "transform": [{"filter": "datum.s == '2CEAHVPT'"}],
         "mark": {"type": "line", "interpolate": "step-after", "strokeWidth": 7.5, "clip": true},
         "encoding": {"x": {"field": "m", "type": "quantitative", "scale": {"domain": [15.1, 170.3], "nice": false, "zero": false}},
                      "y": {"field": "v", "type": "quantitative", "scale": {"domain": [5.55, 13.51], "nice": false, "zero": false},
                            "axis": {"title": "Temperature", "values": [6, 7, 8, 9, 10, 11, 12, 13], "format": "d"}},
                      "color": {"field": "s", "type": "nominal", "scale": {"domain": ["2CEAHVPT", "Model"], "range": ["#1f77b4", "#ff7f0e"]},
                                "legend": {"title": null, "orient": "top-left", "symbolType": "M-1,0H3.27"}}}},
        {"data": {"name": "model"}, "mark": {"type": "line", "strokeWidth": 5, "clip": true},
         "encoding": {"x": {"field": "m", "type": "quantitative", "scale": {"domain": [15.1, 170.3], "nice": false, "zero": false}},
                      "y": {"field": "v", "type": "quantitative", "scale": {"domain": [5.55, 13.51], "nice": false, "zero": false}},
                      "color": {"field": "s", "type": "nominal", "scale": {"domain": ["2CEAHVPT", "Model"], "range": ["#1f77b4", "#ff7f0e"]},
                                "legend": {"title": null, "orient": "top-left", "symbolType": "M-1,0H3.27"}}}}
      ]
    },
    {
      "width": 1791, "height": 674,
      "layer": [
        {"data": {"name": "shade"}, "transform": [{"filter": "datum.k == 'hrc'"}],
         "mark": {"type": "rect", "color": "#d62728", "opacity": 0.06},
         "encoding": {"x": {"field": "m", "type": "quantitative", "scale": {"domain": [15.1, 170.3], "nice": false, "zero": false},
                            "axis": {"orient": "bottom", "values": [30, 45, 60, 75, 90, 105, 120, 135, 150, 165], "grid": true, "gridColor": "#b0b0b0", "gridWidth": 1.5,
                                     "gridDash": {"condition": {"test": "datum.value % 60 == 0", "value": [1, 0]}, "value": [11, 5]},
                                     "tickSize": 28, "tickOpacity": {"condition": {"test": "datum.value % 60 == 0", "value": 1}, "value": 0}, "labels": false, "title": null}},
                      "x2": {"field": "m2"}}},
        {"data": {"name": "obsid"}, "mark": {"type": "rule", "color": "black", "strokeWidth": 1.5},
         "encoding": {"x": {"field": "m", "type": "quantitative", "scale": {"domain": [15.1, 170.3], "nice": false, "zero": false}}}},
        {"data": {"name": "dense"}, "transform": [{"fold": ["a", "b", "c"], "as": ["s", "v"]}, {"filter": "isValid(datum.v)"}],
         "mark": {"type": "line", "strokeWidth": 2.2, "clip": true},
         "encoding": {"x": {"field": "m", "type": "quantitative", "scale": {"domain": [15.1, 170.3], "nice": false, "zero": false}},
                      "y": {"field": "v", "type": "quantitative", "scale": {"type": "log", "domain": [50, 8900], "nice": false},
                            "axis": {"title": "Rate", "values": [100, 1000], "labelExpr": "datum.value == 100 ? '10²' : '10³'"}},
                      "color": {"field": "s", "type": "nominal", "scale": {"domain": ["a", "b", "c", "old", "new"], "range": ["#1f77b4", "#ff7f0e", "#2ca02c", "#9467bd", "#bcbd22"]},
                                "legend": {"title": null, "orient": "top-left", "symbolStrokeWidth": 3, "symbolType": "M-1,0H3.27",
                                           "labelExpr": "datum.label == 'a' ? '2TLEV1RT (126)' : datum.label == 'b' ? '2VLEV1RT (62)' : datum.label == 'c' ? '2SHEV1RT (1,513)' : datum.label == 'old' ? 'Old Proxy' : 'New Proxy'"}},
                      "strokeDash": {"field": "s", "type": "nominal", "scale": {"domain": ["a", "b", "c", "old", "new"], "range": [[1, 0], [1, 0], [1, 0], [5, 3], [5, 3]]},
                                "legend": {"title": null, "orient": "top-left", "symbolStrokeWidth": 3, "symbolType": "M-1,0H3.27",
                                           "labelExpr": "datum.label == 'a' ? '2TLEV1RT (126)' : datum.label == 'b' ? '2VLEV1RT (62)' : datum.label == 'c' ? '2SHEV1RT (1,513)' : datum.label == 'old' ? 'Old Proxy' : 'New Proxy'"}}}},
        {"data": {"name": "proxy"},
         "mark": {"type": "line", "strokeWidth": 1.8, "clip": true},
         "encoding": {"x": {"field": "m", "type": "quantitative", "scale": {"domain": [15.1, 170.3], "nice": false, "zero": false}},
                      "y": {"field": "v", "type": "quantitative", "scale": {"type": "log", "domain": [50, 8900], "nice": false}},
                      "color": {"field": "s", "type": "nominal", "scale": {"domain": ["a", "b", "c", "old", "new"], "range": ["#1f77b4", "#ff7f0e", "#2ca02c", "#9467bd", "#bcbd22"]},
                                "legend": {"title": null, "orient": "top-left", "symbolStrokeWidth": 3, "symbolType": "M-1,0H3.27",
                                           "labelExpr": "datum.label == 'a' ? '2TLEV1RT (126)' : datum.label == 'b' ? '2VLEV1RT (62)' : datum.label == 'c' ? '2SHEV1RT (1,513)' : datum.label == 'old' ? 'Old Proxy' : 'New Proxy'"}},
                      "strokeDash": {"field": "s", "type": "nominal", "scale": {"domain": ["a", "b", "c", "old", "new"], "range": [[1, 0], [1, 0], [1, 0], [5, 3], [5, 3]]},
                                "legend": {"title": null, "orient": "top-left", "symbolStrokeWidth": 3, "symbolType": "M-1,0H3.27",
                                           "labelExpr": "datum.label == 'a' ? '2TLEV1RT (126)' : datum.label == 'b' ? '2VLEV1RT (62)' : datum.label == 'c' ? '2SHEV1RT (1,513)' : datum.label == 'old' ? 'Old Proxy' : 'New Proxy'"}}}}
      ]
    },
    {
      "width": 1791, "height": 674,
      "layer": [
        {"data": {"name": "shade"}, "transform": [{"filter": "datum.k == 'hrc'"}],
         "mark": {"type": "rect", "color": "#d62728", "opacity": 0.06},
         "encoding": {"x": {"field": "m", "type": "quantitative", "scale": {"domain": [15.1, 170.3], "nice": false, "zero": false},
                            "axis": {"orient": "bottom", "values": [30, 45, 60, 75, 90, 105, 120, 135, 150, 165], "grid": true, "gridColor": "#b0b0b0", "gridWidth": 1.5,
                                     "gridDash": {"condition": {"test": "datum.value % 60 == 0", "value": [1, 0]}, "value": [11, 5]},
                                     "tickSize": 28, "tickOpacity": {"condition": {"test": "datum.value % 60 == 0", "value": 1}, "value": 0}, "labels": false, "title": null}},
                      "x2": {"field": "m2"}}},
        {"data": {"name": "obsid"}, "mark": {"type": "rule", "color": "black", "strokeWidth": 1.5},
         "encoding": {"x": {"field": "m", "type": "quantitative", "scale": {"domain": [15.1, 170.3], "nice": false, "zero": false}}}},
        {"data": {"name": "volt"},
         "mark": {"type": "line", "interpolate": "step-after", "strokeWidth": 7.5, "clip": true},
         "encoding": {"x": {"field": "m", "type": "quantitative", "scale": {"domain": [15.1, 170.3], "nice": false, "zero": false}},
                      "y": {"field": "v", "type": "quantitative", "scale": {"domain": [-20, 20], "nice": false, "zero": false},
                            "axis": {"title": "Volt", "values": [-20, -15, -10, -5, 0, 5, 10, 15, 20], "format": "d"}},
                      "color": {"field": "s", "type": "nominal", "scale": {"domain": ["2P15VAVL", "2N15VAVL", "2P05VAVL"], "range": ["#1f77b4", "#ff7f0e", "#2ca02c"]},
                                "legend": {"title": null, "orient": "none", "legendX": 775, "legendY": 274, "symbolType": "M-1,0H3.27"}}}}
      ]
    },
    {
      "width": 1791, "height": 674,
      "layer": [
        {"data": {"name": "shade"}, "transform": [{"filter": "datum.k == 'hrc'"}],
         "mark": {"type": "rect", "color": "#d62728", "opacity": 0.06},
         "encoding": {"x": {"field": "m", "type": "quantitative", "scale": {"domain": [15.1, 170.3], "nice": false, "zero": false},
                            "axis": {"orient": "bottom", "values": [30, 45, 60, 75, 90, 105, 120, 135, 150, 165], "grid": true, "gridColor": "#b0b0b0", "gridWidth": 1.5,
                                     "gridDash": {"condition": {"test": "datum.value % 60 == 0", "value": [1, 0]}, "value": [11, 5]},
                                     "tickSize": 28, "tickOpacity": {"condition": {"test": "datum.value % 60 == 0", "value": 1}, "value": 0}, "labels": false, "title": null}},
                      "x2": {"field": "m2"}}},
        {"data": {"name": "obsid"}, "mark": {"type": "rule", "color": "black", "strokeWidth": 1.5},
         "encoding": {"x": {"field": "m", "type": "quantitative", "scale": {"domain": [15.1, 170.3], "nice": false, "zero": false}}}},
        {"data": {"name": "dense"}, "transform": [{"fold": ["g", "r"], "as": ["s", "v"]}, {"filter": "isValid(datum.v)"}],
         "mark": {"type": "point", "filled": true, "size": 100, "opacity": 1, "clip": true},
         "encoding": {"x": {"field": "m", "type": "quantitative", "scale": {"domain": [15.1, 170.3], "nice": false, "zero": false}},
                      "y": {"field": "v", "type": "quantitative", "scale": {"domain": [0, 266], "nice": false, "zero": false},
                            "axis": {"title": "HV Monitor", "values": [0, 50, 100, 150, 200, 250], "format": "d"}},
                      "order": {"field": "s"},
                      "color": {"field": "s", "type": "nominal", "scale": {"domain": ["sb", "sv", "g", "r"], "range": ["#1f77b4", "#ff7f0e", "#2ca02c", "#d62728"]},
                                "legend": {"title": null, "orient": "none", "legendX": 785, "legendY": 485, "symbolType": "circle", "symbolSize": 60, "symbolStrokeWidth": 0, "labelOffset": 40,
                                           "labelExpr": "datum.label == 'sb' ? '2SPHBLV' : datum.label == 'sv' ? '2SPHVLV' : datum.label == 'g' ? '2IMHVLV' : '2IMHBLV'"}}}},
        {"data": {"name": "hv"},
         "mark": {"type": "point", "filled": true, "size": 100, "opacity": 1, "clip": true},
         "encoding": {"x": {"field": "m", "type": "quantitative", "scale": {"domain": [15.1, 170.3], "nice": false, "zero": false}},
                      "y": {"field": "v", "type": "quantitative", "scale": {"domain": [0, 266], "nice": false, "zero": false}},
                      "color": {"field": "s", "type": "nominal", "scale": {"domain": ["sb", "sv", "g", "r"], "range": ["#1f77b4", "#ff7f0e", "#2ca02c", "#d62728"]},
                                "legend": {"title": null, "orient": "none", "legendX": 785, "legendY": 485, "symbolType": "circle", "symbolSize": 60, "symbolStrokeWidth": 0, "labelOffset": 40,
                                           "labelExpr": "datum.label == 'sb' ? '2SPHBLV' : datum.label == 'sv' ? '2SPHVLV' : datum.label == 'g' ? '2IMHVLV' : '2IMHBLV'"}}}}
      ]
    },
    {
      "width": 1791, "height": 674,
      "layer": [
        {"data": {"name": "shade"}, "transform": [{"filter": "datum.k == 'hrc'"}],
         "mark": {"type": "rect", "color": "#d62728", "opacity": 0.06},
         "encoding": {"x": {"field": "m", "type": "quantitative", "scale": {"domain": [15.1, 170.3], "nice": false, "zero": false},
                            "axis": {"orient": "bottom", "values": [30, 45, 60, 75, 90, 105, 120, 135, 150, 165], "grid": true, "gridColor": "#b0b0b0", "gridWidth": 1.5,
                                     "gridDash": {"condition": {"test": "datum.value % 60 == 0", "value": [1, 0]}, "value": [11, 5]},
                                     "tickSize": 28, "tickOpacity": {"condition": {"test": "datum.value % 60 == 0", "value": 1}, "value": 0}, "labels": false, "title": null}},
                      "x2": {"field": "m2"}}},
        {"data": {"name": "obsid"}, "mark": {"type": "rule", "color": "black", "strokeWidth": 1.5},
         "encoding": {"x": {"field": "m", "type": "quantitative", "scale": {"domain": [15.1, 170.3], "nice": false, "zero": false}}}},
        {"data": {"name": "det"},
         "mark": {"type": "line", "interpolate": "step-after", "strokeWidth": 7.5, "clip": true},
         "encoding": {"x": {"field": "m", "type": "quantitative", "scale": {"domain": [15.1, 170.3], "nice": false, "zero": false}},
                      "y": {"field": "v", "type": "quantitative", "scale": {"domain": [-0.71, 18.9], "nice": false, "zero": false},
                            "axis": {"title": "Detector Temp", "values": [0, 2.5, 5, 7.5, 10, 12.5, 15, 17.5], "format": ".1f"}},
                      "color": {"field": "s", "type": "nominal", "scale": {"domain": ["2SPINATM", "2SPHVATM", "2IMINATM", "2IMHVATM"], "range": ["#1f77b4", "#ff7f0e", "#2ca02c", "#d62728"]},
                                "legend": {"title": null, "orient": "none", "legendX": 16, "legendY": 251, "symbolType": "M-1,0H3.27"}}}}
      ]
    },
    {
      "width": 1791, "height": 674,
      "layer": [
        {"data": {"name": "shade"}, "transform": [{"filter": "datum.k == 'hrc'"}],
         "mark": {"type": "rect", "color": "#d62728", "opacity": 0.06},
         "encoding": {"x": {"field": "m", "type": "quantitative", "scale": {"domain": [15.1, 170.3], "nice": false, "zero": false},
                            "axis": {"orient": "bottom", "values": [30, 45, 60, 75, 90, 105, 120, 135, 150, 165], "grid": true, "gridColor": "#b0b0b0", "gridWidth": 1.5,
                                     "gridDash": {"condition": {"test": "datum.value % 60 == 0", "value": [1, 0]}, "value": [11, 5]},
                                     "tickSize": 28, "tickOpacity": {"condition": {"test": "datum.value % 60 == 0", "value": 1}, "value": 0},
                                     "labelExpr": "datum.value % 60 == 0 ? (20 + datum.value / 60) + 'h' : '' + (datum.value % 60)",
                                     "labelFontSize": {"condition": {"test": "datum.value % 60 == 0", "value": 28}, "value": 16},
                                     "labelBaseline": {"condition": {"test": "datum.value % 60 == 0", "value": "line-top"}, "value": "line-bottom"},
                                     "labelLineHeight": 34.5, "labelPadding": 5.6,
                                     "title": "2024-06-07 (159)", "titleFontSize": 28, "titlePadding": 10}},
                      "x2": {"field": "m2"}}},
        {"data": {"name": "obsid"}, "mark": {"type": "rule", "color": "black", "strokeWidth": 1.5},
         "encoding": {"x": {"field": "m", "type": "quantitative", "scale": {"domain": [15.1, 170.3], "nice": false, "zero": false}}}},
        {"data": {"name": "temps"}, "transform": [{"filter": {"field": "s", "oneOf": ["2FHTRMZT", "2FRADPYT", "2FEPRATM", "2FE00ATM"]}}],
         "mark": {"type": "line", "interpolate": "step-after", "strokeWidth": 7.5, "clip": true},
         "encoding": {"x": {"field": "m", "type": "quantitative", "scale": {"domain": [15.1, 170.3], "nice": false, "zero": false}},
                      "y": {"field": "v", "type": "quantitative", "scale": {"domain": [-9.07, 0.52], "nice": false, "zero": false},
                            "axis": {"title": "FEA Temp", "values": [-8, -6, -4, -2, 0], "format": "d"}},
                      "color": {"field": "s", "type": "nominal", "scale": {"domain": ["2FHTRMZT", "2FRADPYT", "2FEPRATM", "2FE00ATM"], "range": ["#1f77b4", "#ff7f0e", "#2ca02c", "#d62728"]},
                                "legend": {"title": null, "orient": "top-left", "symbolType": "M-1,0H3.27"}}}}
      ]
    }
  ],
  "config": {
    "font": "DejaVu Sans",
    "view": {"stroke": "black", "strokeWidth": 2},
    "axis": {"labelFont": "DejaVu Sans", "titleFont": "DejaVu Sans", "labelFontSize": 28, "titleFontSize": 28, "titleFontWeight": "normal",
             "labelColor": "black", "titleColor": "black", "tickColor": "black", "tickWidth": 2, "tickSize": 28, "labelPadding": 9, "titlePadding": 14,
             "domain": false, "grid": false, "labelFlush": false, "labelOverlap": false, "labelLimit": 500},
    "legend": {"labelFont": "DejaVu Sans", "labelFontSize": 28, "labelColor": "black", "symbolSize": 900, "symbolStrokeWidth": 8,
               "rowPadding": 8, "labelOffset": 40, "padding": 8, "fillColor": "rgba(255,255,255,0.8)", "strokeColor": "#cccccc", "strokeWidth": 2.5,
               "cornerRadius": 8, "offset": 15, "labelLimit": 400}
  }
}
